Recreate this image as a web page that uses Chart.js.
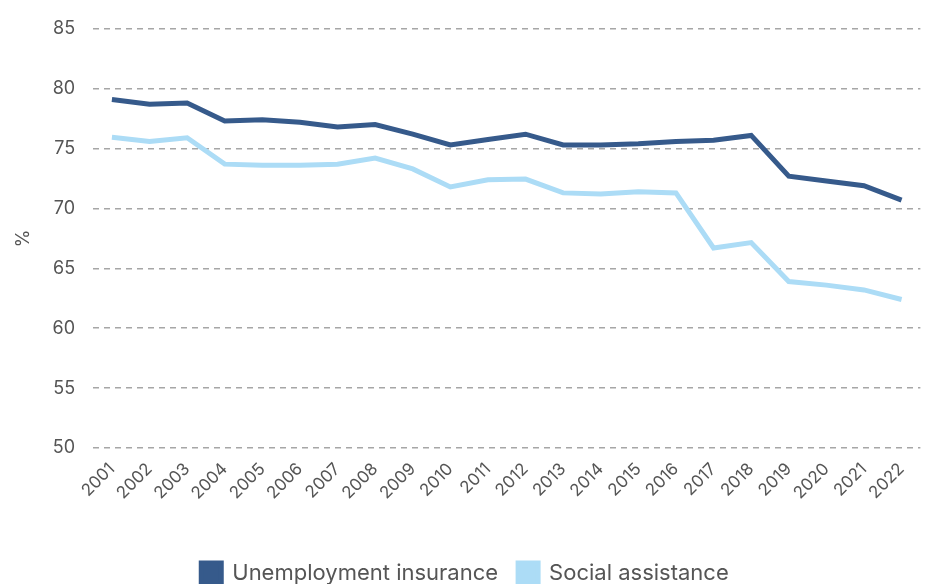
<!DOCTYPE html>
<html>
<head>
<meta charset="utf-8">
<script src="https://cdn.jsdelivr.net/npm/chart.js@4/dist/chart.umd.min.js"></script>
<style>
html,body{margin:0;padding:0;background:#fff;}
#wrap{width:927px;height:584px;}
</style>
</head>
<body>
<div id="wrap"><canvas id="c" width="927" height="584"></canvas></div>
<script>
const years = ["2001","2002","2003","2004","2005","2006","2007","2008","2009","2010","2011","2012","2013","2014","2015","2016","2017","2018","2019","2020","2021","2022"];
const unemploymentInsurance = [79.1,78.7,78.8,77.3,77.4,77.2,76.8,77.0,76.2,75.3,75.75,76.2,75.3,75.3,75.4,75.6,75.7,76.1,72.7,72.3,71.9,70.7];
const socialAssistance = [75.95,75.6,75.9,73.7,73.6,73.6,73.7,74.2,73.3,71.8,72.4,72.45,71.3,71.2,71.4,71.3,66.7,67.15,63.9,63.6,63.2,62.4];
const yTicks = [50,55,60,65,70,75,80,85];

const FONT = "Inter, 'Open Sans', sans-serif";
const TXT = "#555555";
const PLOT_BOTTOM = 448;
const LAYOUT_BOTTOM = -10;

new Chart(document.getElementById('c'), {
  type: 'line',
  data: {
    labels: years,
    datasets: [
      {label: 'Unemployment insurance', data: unemploymentInsurance, borderColor: '#365a8b', backgroundColor: '#365a8b', borderWidth: 5, pointRadius: 0, tension: 0, fill: false},
      {label: 'Social assistance', data: socialAssistance, borderColor: '#acdcf6', backgroundColor: '#acdcf6', borderWidth: 5, pointRadius: 0, tension: 0, fill: false}
    ]
  },
  options: {
    responsive: false,
    animation: false,
    layout: {padding: {top: 9, right: 0, left: 3, bottom: LAYOUT_BOTTOM}},
    plugins: {
      legend: {
        position: 'bottom',
        labels: {font: {family: FONT, size: 22}, color: TXT, boxWidth: 20, boxHeight: 20, padding: 20}
      },
      tooltip: {enabled: false}
    },
    scales: {
      x: {
        offset: true,
        grid: {display: false, drawTicks: false},
        border: {display: false},
        ticks: {font: {family: FONT, size: 17}, color: TXT, maxRotation: 45, minRotation: 45, autoSkip: false, padding: 11},
        afterFit: (axis) => {
          const ch = axis.chart;
          axis.height = ch.height - PLOT_BOTTOM - ch.legend.height - LAYOUT_BOTTOM;
        }
      },
      y: {
        min: 50, max: 85,
        afterBuildTicks: (axis) => { axis.ticks = yTicks.map(v => ({value: v})); },
        grid: {color: '#a6a6a6', lineWidth: 1.5, drawTicks: false},
        border: {display: false, dash: [6, 5]},
        ticks: {font: {family: FONT, size: 18}, color: TXT, padding: 18},
        title: {display: true, text: '%', font: {family: FONT, size: 18}, color: TXT, padding: {top: 10, bottom: 0}}
      }
    }
  }
});
</script>
</body>
</html>
